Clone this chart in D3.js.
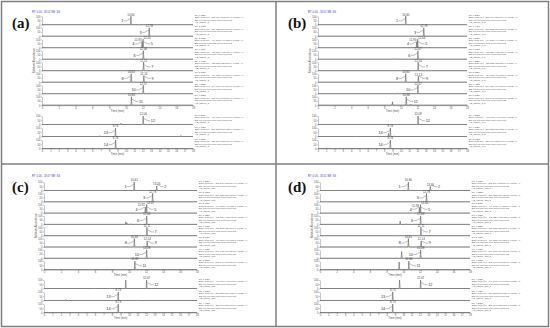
<!DOCTYPE html>
<html>
<head>
<script src="https://cdnjs.cloudflare.com/ajax/libs/d3/7.8.5/d3.min.js"></script>
<style>body{margin:0;background:#fff}svg text{font-family:"Liberation Sans",Arial,sans-serif}</style>
</head>
<body>
<script>
var panelLabels = ['(a)', '(b)', '(c)', '(d)'];
var rtHeaders = ['RT: 0.00 - 18.02  SM: 3G', 'RT: 0.00 - 18.01  SM: 3G', 'RT: 0.00 - 18.07  SM: 3G', 'RT: 0.00 - 18.01  SM: 3G'];
var sampleNames = ['IAE_sample_2', 'IAE_sample_3_2', 'IAE_sample_2T1', 'IAE_sample_2T3_2'];
var topMz = ['303.0484-303.0544', '287.0535-287.0593', '449.1063-449.1137', '463.0854-463.0934',
             '433.1113-433.1189', '479.0802-479.0886', '609.1439-609.1543', '593.1491-593.1591'];
var bottomMz = ['447.0906-447.0992', '271.0583-271.0639', '285.0740-285.0796'];
var nlTop = [
  ['1.03E6', '2.98E5', '3.11E6', '1.87E6', '8.44E5', '2.16E6', '4.52E5', '6.30E5'],
  ['1.21E7', '7.49E5', '7.86E6', '7.66E5', '1.27E6', '3.13E6', '1.48E6', '5.09E5'],
  ['1.32E6', '3.45E5', '2.98E6', '1.63E6', '7.90E5', '2.04E6', '4.11E5', '5.72E5'],
  ['1.78E6', '4.02E5', '3.36E6', '1.95E6', '8.63E5', '2.47E6', '4.96E5', '6.81E5']
];
var nlBottom = [
  ['5.26E6', '1.17E6', '7.15E5'],
  ['6.88E5', '1.78E6', '3.98E5'],
  ['1.10E6', '7.38E5', '4.49E5'],
  ['4.98E5', '7.40E5', '4.30E5']
];

// chromatogram peaks: [retention time (min), relative abundance (%)]
var topPeaks = [
  [[[10.60, 100]], [[12.78, 100]], [[11.93, 72], [12.05, 100]], [[12.08, 100]],
   [[12.11, 100]], [[10.63, 100], [12.14, 78]], [[12.07, 100]], [[10.66, 100]]],
  [[[10.60, 100]], [[12.78, 100]], [[11.93, 70], [12.04, 100]], [[9.10, 4], [12.07, 100]],
   [[12.10, 100]], [[10.60, 100], [12.13, 70]], [[9.60, 5], [12.07, 100]], [[9.00, 40], [10.66, 100], [11.20, 12]]],
  [[[10.61, 100], [13.26, 55]], [[12.78, 100]], [[11.92, 70], [12.07, 100]], [[9.62, 30], [9.75, 18], [10.20, 8], [12.08, 100]],
   [[12.11, 100]], [[10.63, 100], [12.14, 72]], [[12.08, 100]], [[9.50, 8], [10.69, 100]]],
  [[[10.60, 100], [13.24, 50]], [[12.78, 100]], [[11.93, 68], [12.06, 100]], [[9.62, 38], [10.35, 8], [12.08, 100]],
   [[8.90, 5], [9.70, 7], [12.11, 100]], [[10.61, 100], [12.14, 72]], [[9.80, 80], [12.08, 100]], [[9.50, 90], [10.66, 100]]]
];
var bottomPeaks = [
  [[[9.42, 15], [12.06, 100]], [[6.88, 10], [8.76, 100], [16.55, 12]], [[7.05, 6], [7.90, 5], [8.78, 100], [14.60, 4]]],
  [[[12.09, 100]], [[4.70, 3], [8.51, 35], [8.74, 100], [9.20, 8]], [[8.74, 100]]],
  [[[6.00, 4], [9.62, 100], [12.07, 100]], [[2.55, 12], [8.73, 100], [9.30, 6], [11.00, 4]], [[8.73, 100], [9.35, 6]]],
  [[[9.55, 100], [12.07, 100]], [[7.80, 10], [8.73, 100]], [[8.73, 100], [9.60, 6]]]
];
// labelled peaks: [compound number, retention time (min), side of label]
var topCompounds = [
  [[['1', 10.60, 'l']], [['3', 12.78, 'l']], [['4', 11.93, 'l'], ['5', 12.05, 'r']], [['6', 12.08, 'l']],
   [['7', 12.11, 'r']], [['8', 10.63, 'l'], ['9', 12.14, 'r']], [['10', 12.07, 'l']], [['11', 10.66, 'r']]],
  [[['1', 10.60, 'l']], [['3', 12.78, 'l']], [['4', 11.93, 'l'], ['5', 12.04, 'r']], [['6', 12.07, 'l']],
   [['7', 12.10, 'r']], [['8', 10.60, 'l'], ['9', 12.13, 'r']], [['10', 12.07, 'l']], [['11', 10.66, 'r']]],
  [[['1', 10.61, 'l'], ['2', 13.26, 'r']], [['3', 12.78, 'l']], [['4', 11.92, 'l'], ['5', 12.07, 'r']], [['6', 12.08, 'l']],
   [['7', 12.11, 'r']], [['8', 10.63, 'l'], ['9', 12.14, 'r']], [['10', 12.08, 'l']], [['11', 10.69, 'r']]],
  [[['1', 10.60, 'l'], ['2', 13.24, 'r']], [['3', 12.78, 'l']], [['4', 11.93, 'l'], ['5', 12.06, 'r']], [['6', 12.08, 'l']],
   [['7', 12.11, 'r']], [['8', 10.61, 'l'], ['9', 12.14, 'r']], [['10', 12.08, 'l']], [['11', 10.66, 'r']]]
];
var bottomCompounds = [
  [[['12', 12.06, 'r']], [['13', 8.76, 'l']], [['14', 8.78, 'l']]],
  [[['12', 12.09, 'r']], [['13', 8.74, 'l']], [['14', 8.74, 'l']]],
  [[['12', 12.07, 'r']], [['13', 8.73, 'l']], [['14', 8.73, 'l']]],
  [[['12', 12.07, 'r']], [['13', 8.73, 'l']], [['14', 8.73, 'l']]]
];
var topTicks = d3.range(0, 19, 2);
var bottomTicks = d3.range(0, 19, 1);

var layout = [
  {ox: 0,   oy: 0,   x0: 42, x1: 193, t0: 24.7, ts: 11.5},
  {ox: 276, oy: 0,   x0: 42, x1: 191, t0: 24.7, ts: 11.5},
  {ox: 0,   oy: 164, x0: 44, x1: 197, t0: 26.5, ts: 11.3},
  {ox: 276, oy: 164, x0: 44, x1: 194, t0: 26.5, ts: 11.3}
];
var stripH = 8.5, bottom0 = 124.5, bottomStep = 12;

var svg = d3.select('body').append('svg').attr('width', 550).attr('height', 328);
svg.append('rect').attr('width', 550).attr('height', 328).attr('fill', '#fff');

var line = d3.line();

function drawStrip(g, x, base, peaks, comps, nl, mz, sample) {
  var y = d3.scaleLinear().domain([0, 100]).range([base, base - stripH]);
  // strip baseline
  g.append('line').attr('x1', x.range()[0]).attr('x2', x.range()[1])
    .attr('y1', base).attr('y2', base).attr('stroke', '#777').attr('stroke-width', 0.5);
  g.append('g').attr('transform', 'translate(' + x.range()[0] + ',0)')
    .call(d3.axisLeft(y).tickValues([0, 50, 100]).tickSize(1).tickSizeOuter(0).tickPadding(0.6))
    .call(function (a) {
      a.selectAll('path,line').attr('stroke', '#777').attr('stroke-width', 0.4);
      a.selectAll('text').attr('font-size', 2.6).attr('fill', '#555').attr('font-family', null);
    });
  // trace
  var pts = [[0, 0]];
  peaks.slice().sort(function (a, b) { return a[0] - b[0]; }).forEach(function (p) {
    pts.push([p[0] - 0.06, 0], [p[0], p[1]], [p[0] + 0.06, 0]);
  });
  pts.push([18, 0]);
  g.append('path').attr('d', line(pts.map(function (p) { return [x(p[0]), y(p[1])]; })))
    .attr('fill', 'none').attr('stroke', '#555').attr('stroke-width', 0.55);
  // labels
  comps.forEach(function (c, i) {
    var px = x(c[1]);
    var h = 100;
    peaks.forEach(function (p) { if (Math.abs(p[0] - c[1]) < 0.005) h = p[1]; });
    var shift = 0;
    if (comps.length > 1 && Math.abs(comps[0][1] - comps[1][1]) < 0.6) shift = (i === 0 ? -4 : 4);
    g.append('text').attr('x', px + shift).attr('y', y(h) - 0.7).attr('text-anchor', 'middle')
      .attr('font-size', 2.9).attr('fill', '#444').text(c[1].toFixed(2));
    var s = c[2] === 'l' ? -1 : 1;
    var ly = base - stripH * 0.45;
    g.append('polyline')
      .attr('points', [[px + s * 7, ly], [px + s * 4.5, ly], [px + s * 0.6, ly - 2.2]].join(' '))
      .attr('fill', 'none').attr('stroke', '#555').attr('stroke-width', 0.4);
    g.append('text').attr('x', px + s * 7.6).attr('y', ly + 1.3)
      .attr('text-anchor', s < 0 ? 'end' : 'start')
      .attr('font-size', 3.8).attr('fill', '#333').text(c[0]);
  });
  // right-hand description
  var desc = ['NL: ' + nl, 'Base Peak m/z= ' + mz + '  F: FTMS + p', 'ESI Full ms [100.0000-1000.0000] MS', sample];
  g.selectAll(null).data(desc).enter().append('text')
    .attr('x', x.range()[1] + 1.8).attr('y', function (d, i) { return base - stripH - 0.3 + i * 2.5; })
    .attr('font-size', 2.2).attr('fill', '#555').text(function (d) { return d; });
}

function drawAxis(g, x, base, ticks) {
  g.append('g').attr('transform', 'translate(0,' + base + ')')
    .call(d3.axisBottom(x).tickValues(ticks).tickSize(1).tickSizeOuter(0).tickPadding(0.5))
    .call(function (a) {
      a.selectAll('path,line').attr('stroke', '#777').attr('stroke-width', 0.4);
      a.selectAll('text').attr('font-size', 2.6).attr('fill', '#555').attr('font-family', null);
    });
  g.append('text').attr('x', (x.range()[0] + x.range()[1]) / 2).attr('y', base + 6.3)
    .attr('text-anchor', 'middle').attr('font-size', 2.8).attr('fill', '#555').text('Time (min)');
}

layout.forEach(function (L, k) {
  var g = svg.append('g').attr('transform', 'translate(' + L.ox + ',' + L.oy + ')');
  var x = d3.scaleLinear().domain([0, 18]).range([L.x0, L.x1]);
  g.append('text').attr('x', 12).attr('y', 28).attr('font-size', 15).attr('font-weight', 'bold')
    .style('font-family', '"Liberation Serif", serif').attr('fill', '#111').text(panelLabels[k]);
  g.append('text').attr('x', 32).attr('y', 13).attr('font-size', 2.6).attr('fill', '#3a3acc').text(rtHeaders[k]);
  topPeaks[k].forEach(function (pk, i) {
    drawStrip(g, x, L.t0 + i * L.ts, pk, topCompounds[k][i], nlTop[k][i], topMz[i], sampleNames[k]);
  });
  drawAxis(g, x, L.t0 + 7 * L.ts, topTicks);
  var mid = (L.t0 - stripH + L.t0 + 7 * L.ts) / 2;
  g.append('text').attr('transform', 'translate(' + (L.x0 - 7) + ',' + mid + ') rotate(-90)')
    .attr('text-anchor', 'middle').attr('font-size', 2.8).attr('fill', '#555').text('Relative Abundance');
  bottomPeaks[k].forEach(function (pk, i) {
    drawStrip(g, x, bottom0 + i * bottomStep, pk, bottomCompounds[k][i], nlBottom[k][i], bottomMz[i], sampleNames[k]);
  });
  drawAxis(g, x, bottom0 + 2 * bottomStep, bottomTicks);
});

// panel frames
svg.append('rect').attr('x', 1.5).attr('y', 1.5).attr('width', 547).attr('height', 325)
  .attr('fill', 'none').attr('stroke', '#808080').attr('stroke-width', 1.5);
svg.append('line').attr('x1', 276).attr('x2', 276).attr('y1', 1).attr('y2', 327)
  .attr('stroke', '#808080').attr('stroke-width', 1.5);
svg.append('line').attr('x1', 1).attr('x2', 549).attr('y1', 164).attr('y2', 164)
  .attr('stroke', '#808080').attr('stroke-width', 1.5);
</script>
</body>
</html>
